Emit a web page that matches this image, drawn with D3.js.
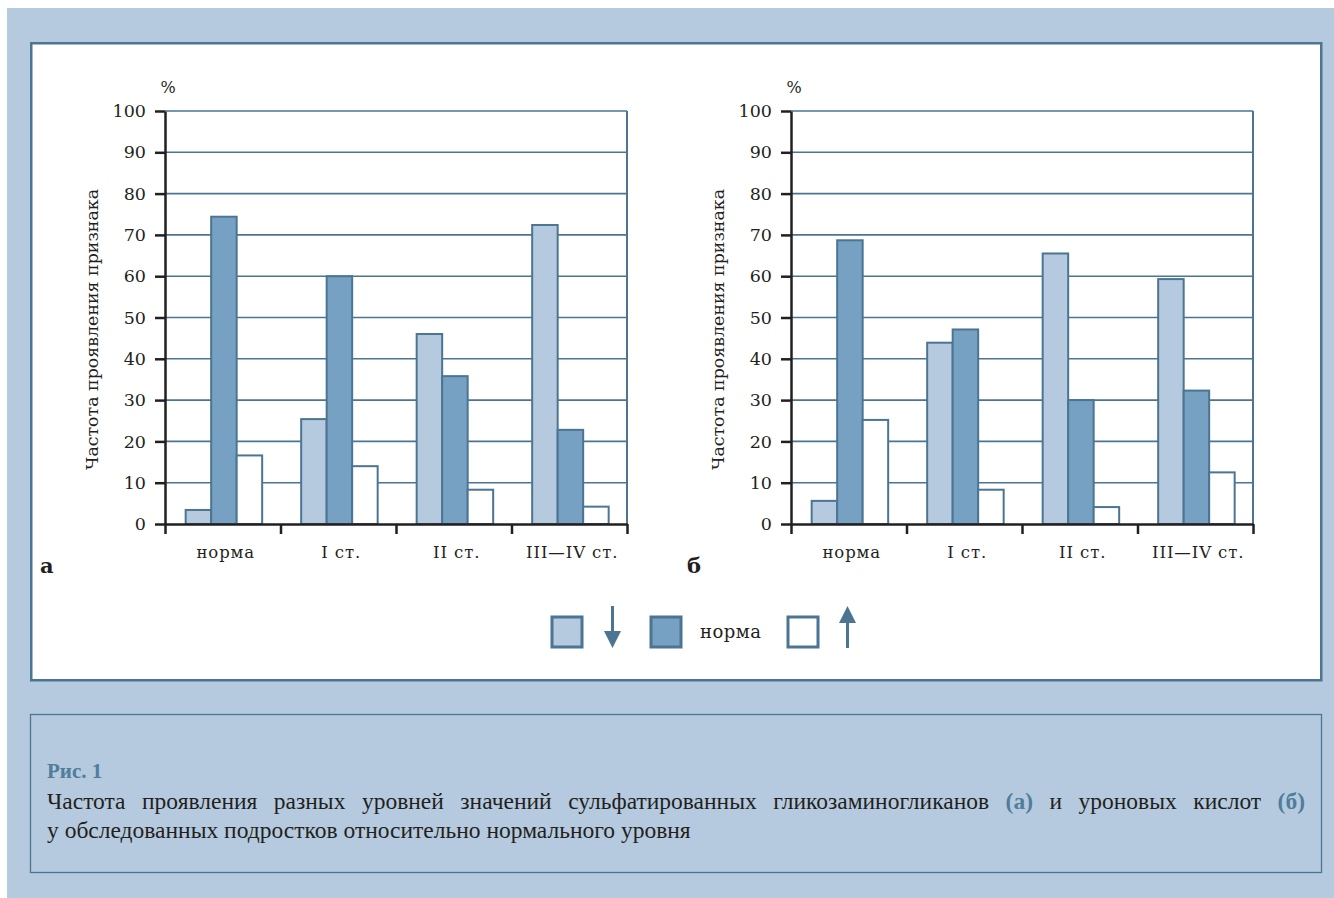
<!DOCTYPE html>
<html>
<head>
<meta charset="utf-8">
<script src="https://cdn.jsdelivr.net/npm/d3@7"></script>
<style>
  html, body { margin: 0; padding: 0; background: #ffffff; }
  svg { display: block; }
</style>
</head>
<body>
<svg id="fig" width="1334" height="898"></svg>
<script>
// Categories (stages) and tick values
const categories = ["норма", "I ст.", "II ст.", "III—IV ст."];
const yTicks = [0, 10, 20, 30, 40, 50, 60, 70, 80, 90, 100];
const seriesKeys = ["low", "norm", "high"];

// Panel а: sulfated glycosaminoglycans, % of patients
const aLow  = [3.4, 25.4, 46.0, 72.4];
const aNorm = [74.4, 60.0, 35.8, 22.8];
const aHigh = [16.6, 14.0, 8.3, 4.2];

// Panel б: uronic acids, % of patients
const bLow  = [5.6, 43.9, 65.5, 59.3];
const bNorm = [68.7, 47.1, 30.0, 32.3];
const bHigh = [25.2, 8.3, 4.1, 12.5];

const yTitle = "Частота проявления признака";
const legendNormLabel = "норма";

const COL = {
  bg: "#b5cade",
  line: "#4b7592",
  light: "#b5cade",
  dark: "#76a1c2",
  white: "#ffffff",
  text: "#231f20",
  accent: "#4f7d9b"
};
const fills = { low: COL.light, norm: COL.dark, high: COL.white };
const SERIF = "'DejaVu Serif', serif";
const CAPTION_FONT = "'Liberation Serif', 'Times New Roman', serif";

const svg = d3.select("#fig");

// page background and framed chart panel
svg.append("rect").attr("x", 7).attr("y", 8).attr("width", 1327).attr("height", 890).attr("fill", COL.bg);
svg.append("rect").attr("x", 31.25).attr("y", 43.25).attr("width", 1290).attr("height", 637)
  .attr("fill", "#fff").attr("stroke", COL.line).attr("stroke-width", 2.5);

function drawPanel(opts) {
  const { left, right, top, bottom, low, norm, high, letter, letterX } = opts;
  const g = svg.append("g");
  const rows = categories.map((c, i) => ({ cat: c, low: low[i], norm: norm[i], high: high[i] }));

  const y = d3.scaleLinear().domain([0, 100]).range([bottom, top]);
  const x = d3.scaleBand().domain(categories).range([left, right]).padding(0);
  const xs = d3.scaleBand().domain(seriesKeys).range([0, x.bandwidth()])
    .paddingInner(0).paddingOuter(0.765).align(0.53);
  const edges = d3.scaleLinear().domain([0, categories.length]).range([left, right]);

  // horizontal gridlines
  g.append("g").selectAll("line").data(yTicks.filter(t => t > 0)).join("line")
    .attr("x1", left).attr("x2", right)
    .attr("y1", d => y(d)).attr("y2", d => y(d))
    .attr("stroke", COL.line).attr("stroke-width", 1.6);
  // right frame line of the plot
  g.append("line").attr("x1", right).attr("x2", right).attr("y1", y(100)).attr("y2", y(0))
    .attr("stroke", COL.line).attr("stroke-width", 2);

  // bars
  const groups = g.append("g").selectAll("g").data(rows).join("g")
    .attr("transform", d => `translate(${x(d.cat)},0)`);
  groups.selectAll("rect").data(d => seriesKeys.map(k => ({ key: k, value: d[k] }))).join("rect")
    .attr("x", d => xs(d.key))
    .attr("width", xs.bandwidth())
    .attr("y", d => y(d.value))
    .attr("height", d => y(0) - y(d.value))
    .attr("fill", d => fills[d.key])
    .attr("stroke", COL.line).attr("stroke-width", 2);

  // y axis
  const yAxis = g.append("g").attr("transform", `translate(${left},0)`)
    .call(d3.axisLeft(y).tickValues(yTicks).tickSize(10).tickSizeOuter(0).tickPadding(9));
  yAxis.select(".domain").attr("stroke", COL.text).attr("stroke-width", 2.5);
  yAxis.selectAll(".tick line").attr("stroke", COL.text).attr("stroke-width", 2.5);
  yAxis.selectAll(".tick text").attr("fill", COL.text)
    .style("font-family", SERIF).style("font-size", "17.5px");

  // x axis: ticks at category boundaries
  const xAxis = g.append("g").attr("transform", `translate(0,${bottom})`)
    .call(d3.axisBottom(edges).tickValues(d3.range(categories.length + 1)).tickSize(10)
      .tickSizeOuter(0).tickFormat(""));
  xAxis.select(".domain").attr("stroke", COL.text).attr("stroke-width", 2.5);
  xAxis.selectAll(".tick line").attr("stroke", COL.text).attr("stroke-width", 2.5);

  // category labels
  g.append("g").selectAll("text").data(categories).join("text")
    .attr("x", d => x(d) + x.bandwidth() / 2 + 3)
    .attr("y", bottom + 34)
    .attr("text-anchor", "middle")
    .attr("fill", COL.text)
    .style("font-family", SERIF).style("font-size", "16.5px").style("letter-spacing", "0.9px")
    .text(d => d);

  // unit
  g.append("text").attr("x", left + 3).attr("y", top - 18).attr("text-anchor", "middle")
    .attr("fill", COL.text).style("font-family", SERIF).style("font-size", "16px").text("%");

  // axis title
  g.append("text")
    .attr("transform", `translate(${left - 67},${(top + bottom) / 2 + 12}) rotate(-90)`)
    .attr("text-anchor", "middle").attr("fill", COL.text)
    .style("font-family", SERIF).style("font-size", "17.4px")
    .text(yTitle);

  // panel letter
  g.append("text").attr("x", letterX).attr("y", 573)
    .attr("fill", COL.text).style("font-family", SERIF).style("font-size", "21px")
    .style("font-weight", "bold").text(letter);
}

drawPanel({ left: 165, right: 627, top: 111, bottom: 524, low: aLow, norm: aNorm, high: aHigh, letter: "а", letterX: 40 });
drawPanel({ left: 791, right: 1253, top: 111, bottom: 524, low: bLow, norm: bNorm, high: bHigh, letter: "б", letterX: 687 });

// legend
const lg = svg.append("g");
const sq = 30;
const legendItems = [
  { key: "low", x: 552 },
  { key: "norm", x: 651 },
  { key: "high", x: 788 }
];
lg.selectAll("rect").data(legendItems).join("rect")
  .attr("x", d => d.x).attr("y", 617).attr("width", sq).attr("height", sq)
  .attr("fill", d => fills[d.key]).attr("stroke", COL.line).attr("stroke-width", 3);
// down arrow (below norm)
lg.append("line").attr("x1", 612.5).attr("x2", 612.5).attr("y1", 606).attr("y2", 636)
  .attr("stroke", COL.line).attr("stroke-width", 3);
lg.append("path").attr("d", "M604,631 L621,631 L612.5,648 Z").attr("fill", COL.line);
// up arrow (above norm)
lg.append("line").attr("x1", 847.5).attr("x2", 847.5).attr("y1", 618).attr("y2", 648)
  .attr("stroke", COL.line).attr("stroke-width", 3);
lg.append("path").attr("d", "M839,623 L856,623 L847.5,606 Z").attr("fill", COL.line);
lg.append("text").attr("x", 700).attr("y", 638).attr("fill", COL.text)
  .style("font-family", SERIF).style("font-size", "18px").style("letter-spacing", "0.5px")
  .text(legendNormLabel);

// caption box
svg.append("rect").attr("x", 30.5).attr("y", 714.5).attr("width", 1291).attr("height", 158)
  .attr("fill", "none").attr("stroke", COL.line).attr("stroke-width", 1.3);

svg.append("text").attr("x", 47).attr("y", 778).attr("fill", COL.accent)
  .style("font-family", CAPTION_FONT).style("font-size", "21px").style("font-weight", "bold")
  .text("Рис. 1");

// first caption line, justified between the box margins
const line1 = [
  { t: "Частота" }, { t: "проявления" }, { t: "разных" }, { t: "уровней" }, { t: "значений" },
  { t: "сульфатированных" }, { t: "гликозаминогликанов" }, { t: "(а)", b: true }, { t: "и" },
  { t: "уроновых" }, { t: "кислот" }, { t: "(б)", b: true }
];
const capSize = "23.5px";
const l1 = svg.append("g");
const words = l1.selectAll("text").data(line1).join("text")
  .attr("y", 809)
  .attr("fill", d => d.b ? COL.accent : COL.text)
  .style("font-family", CAPTION_FONT).style("font-size", capSize)
  .style("font-weight", d => d.b ? "bold" : "normal")
  .text(d => d.t);
const widths = [];
words.each(function () { widths.push(this.getComputedTextLength()); });
const x0 = 47, x1 = 1305;
const gap = (x1 - x0 - d3.sum(widths)) / (line1.length - 1);
let cx = x0;
words.each(function (d, i) { d3.select(this).attr("x", cx); cx += widths[i] + gap; });

svg.append("text").attr("x", 47).attr("y", 838).attr("fill", COL.text)
  .style("font-family", CAPTION_FONT).style("font-size", capSize)
  .text("у обследованных подростков относительно нормального уровня");
</script>
</body>
</html>
